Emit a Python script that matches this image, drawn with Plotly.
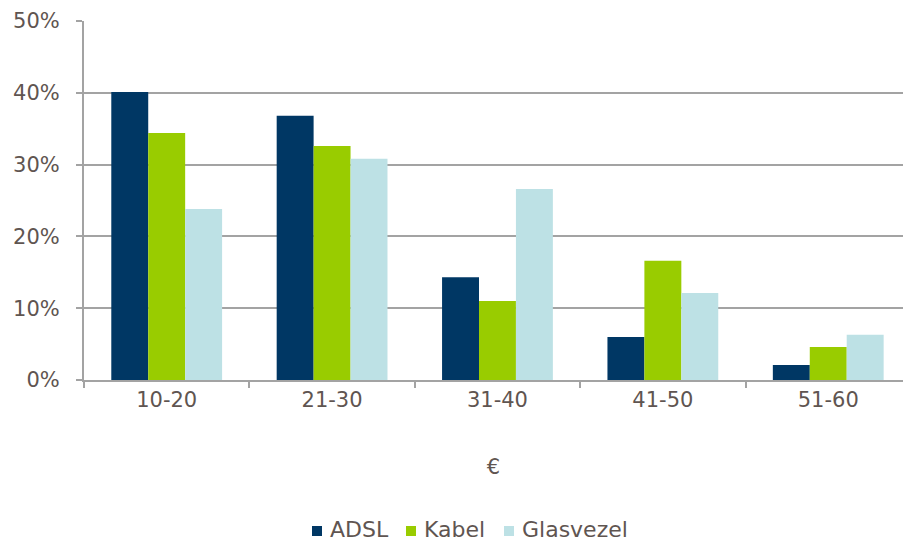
import plotly.graph_objects as go

# Monthly price brackets (euro) and share of subscriptions per connection type
categories = ["10-20", "21-30", "31-40", "41-50", "51-60"]
adsl = [0.401, 0.368, 0.143, 0.060, 0.021]
kabel = [0.344, 0.326, 0.110, 0.166, 0.046]
glasvezel = [0.238, 0.308, 0.266, 0.121, 0.063]
y_ticks = [0, 0.1, 0.2, 0.3, 0.4, 0.5]

series = [
    ("ADSL", adsl, "#003764"),
    ("Kabel", kabel, "#99cc00"),
    ("Glasvezel", glasvezel, "#bde1e5"),
]

TEXT = "#5f5551"
GRID = "#a3a3a3"
FONT = "DejaVu Sans, Verdana, sans-serif"

W, H = 903, 541
L, R, T, B = 84, 0, 21, 161
plot_w, plot_h = W - L - R, H - T - B


def px_x(x):
    return (x - L) / plot_w


def px_y(y):
    return (H - B - y) / plot_h


fig = go.Figure()
for name, vals, col in series:
    fig.add_trace(go.Bar(x=categories, y=vals, name=name, marker_color=col,
                         marker_line_width=0))

# Legend row below the axis title: coloured square followed by the series name
legend_x = [312, 406, 504]
for (name, _, col), x0 in zip(series, legend_x):
    fig.add_shape(type="rect", xref="paper", yref="paper",
                  x0=px_x(x0), x1=px_x(x0 + 10), y0=px_y(536), y1=px_y(526),
                  fillcolor=col, line_width=0)
    fig.add_annotation(xref="paper", yref="paper", x=px_x(x0 + 16), y=px_y(529),
                       xanchor="left", yanchor="middle", showarrow=False,
                       text=name, font=dict(family=FONT, size=22, color=TEXT))

fig.update_layout(
    width=W, height=H,
    margin=dict(l=L, r=R, t=T, b=B),
    plot_bgcolor="white", paper_bgcolor="white",
    barmode="group", bargap=0.33, bargroupgap=0,
    font=dict(family=FONT, size=21, color=TEXT),
    showlegend=False,
)
fig.update_xaxes(
    range=[-0.5, 4.452], type="category",
    showline=True, linecolor=GRID, linewidth=2,
    ticks="outside", tickson="boundaries", ticklen=6, tickcolor=GRID, tickwidth=2,
    tickfont=dict(size=21, color=TEXT),
    title=dict(text="€", font=dict(size=21, color=TEXT), standoff=48),
    showgrid=False,
)
fig.update_yaxes(
    range=[0, 0.5], tickvals=y_ticks, tickformat=".0%",
    showline=True, linecolor=GRID, linewidth=2,
    ticks="outside", ticklen=6, tickcolor=GRID, tickwidth=2,
    ticklabelstandoff=12,
    tickfont=dict(size=21, color=TEXT),
    showgrid=True, gridcolor=GRID, gridwidth=2,
    zeroline=False,
)

fig.write_html("out.html")
